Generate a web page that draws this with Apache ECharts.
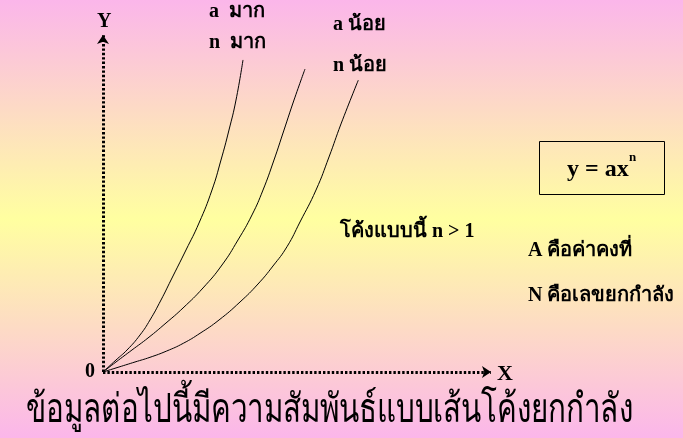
<!DOCTYPE html>
<html>
<head>
<meta charset="utf-8">
<script src="https://cdn.jsdelivr.net/npm/echarts@6/dist/echarts.min.js"></script>
<style>
  body { margin: 0; }
  #chart { width: 683px; height: 438px; }
</style>
</head>
<body>
<div id="chart"></div>
<script>
// curve points [x, y], axis units 0..100
const curveBigA = [[0, 0], [3.35, 3.56], [6.19, 6.53], [9.54, 10.98], [12.11, 15.43], [14.95, 21.36], [17.53, 27.3], [21.39, 36.2], [24.74, 44.2], [28.09, 54.0], [30.41, 62.9], [32.47, 71.8], [34.28, 80.7], [36.08, 92.6]];
const curveMidA = [[0, 0], [3.35, 2.97], [7.47, 6.53], [11.6, 10.1], [16.24, 14.54], [20.62, 18.99], [25.77, 24.93], [30.67, 31.75], [34.79, 39.17], [38.4, 46.6], [41.24, 54.0], [44.07, 62.9], [46.65, 71.8], [49.23, 80.7], [52.06, 89.9]];
const curveSmallA = [[0, 0], [4.12, 1.48], [8.25, 2.97], [12.11, 4.36], [16.42, 6.23], [20.7, 8.52], [25.0, 11.48], [29.9, 15.43], [35.31, 20.77], [39.95, 26.11], [43.81, 31.45], [47.42, 37.18], [50.77, 44.51], [54.9, 54.0], [58.25, 63.8], [61.34, 73.6], [65.8, 86.6]];

const labelBigA = ['a  มาก', 'n  มาก'];
const labelSmallA = ['a น้อย', 'n น้อย'];
const noteCurve = 'โค้งแบบนี้ n > 1';
const noteA = 'A คือค่าคงที่';
const noteN = 'N คือเลขยกกำลัง';
const formula = 'y = ax';
const formulaSup = 'n';
const caption = 'ข้อมูลต่อไปนี้มีความสัมพันธ์แบบเส้นโค้งยกกำลัง';

const serif = '"Liberation Serif", "DejaVu Serif", serif';

const chart = echarts.init(document.getElementById('chart'));

function txt(text, x, y, size, weight) {
    return {
        type: 'text', x: x, y: y,
        style: {
            text: text, fill: '#000', font: (weight || 'bold') + ' ' + size + 'px ' + serif,
            textAlign: 'left', textVerticalAlign: 'middle'
        }
    };
}

const axisCommon = {
    type: 'value', min: 0, max: 100,
    axisLine: {
        show: true, symbol: ['none', 'arrow'], symbolSize: [9, 9],
        lineStyle: { color: '#000', width: 3, type: [2.4, 2], cap: 'butt' }
    },
    axisTick: { show: false },
    axisLabel: { show: false },
    splitLine: { show: false }
};

const lineSeries = (data) => ({
    type: 'line', data: data, smooth: true, symbol: 'none',
    lineStyle: { color: '#000', width: 1 }
});

// caption font is condensed to fit the picture's width
const captionText = txt(caption, 26, 411, 40, 'normal');
captionText.scaleX = 0.74;

chart.setOption({
    backgroundColor: {
        type: 'linear', x: 0, y: 0, x2: 0, y2: 1,
        colorStops: [
            { offset: 0, color: '#FBB6EA' },
            { offset: 0.5, color: '#FFFFA0' },
            { offset: 1, color: '#FBB6EA' }
        ]
    },
    grid: { left: 103, right: 192, top: 35, bottom: 66 },
    xAxis: axisCommon,
    yAxis: axisCommon,
    series: [lineSeries(curveBigA), lineSeries(curveMidA), lineSeries(curveSmallA)],
    graphic: [
        txt('Y', 97, 22, 20),
        txt('X', 497, 374, 22),
        txt('0', 85, 372, 20),
        txt(labelBigA[0], 209, 12, 20),
        txt(labelBigA[1], 209, 43, 20),
        txt(labelSmallA[0], 333, 25, 20),
        txt(labelSmallA[1], 333, 66, 20),
        txt(noteCurve, 340, 232, 20),
        txt(noteA, 528, 251, 20),
        txt(noteN, 528, 296, 20),
        {
            type: 'rect', shape: { x: 539.5, y: 141.5, width: 125, height: 53 },
            style: { fill: 'none', stroke: '#000', lineWidth: 1 }
        },
        txt(formula, 567, 170, 24),
        txt(formulaSup, 629, 158, 13),
        captionText
    ]
});
</script>
</body>
</html>
